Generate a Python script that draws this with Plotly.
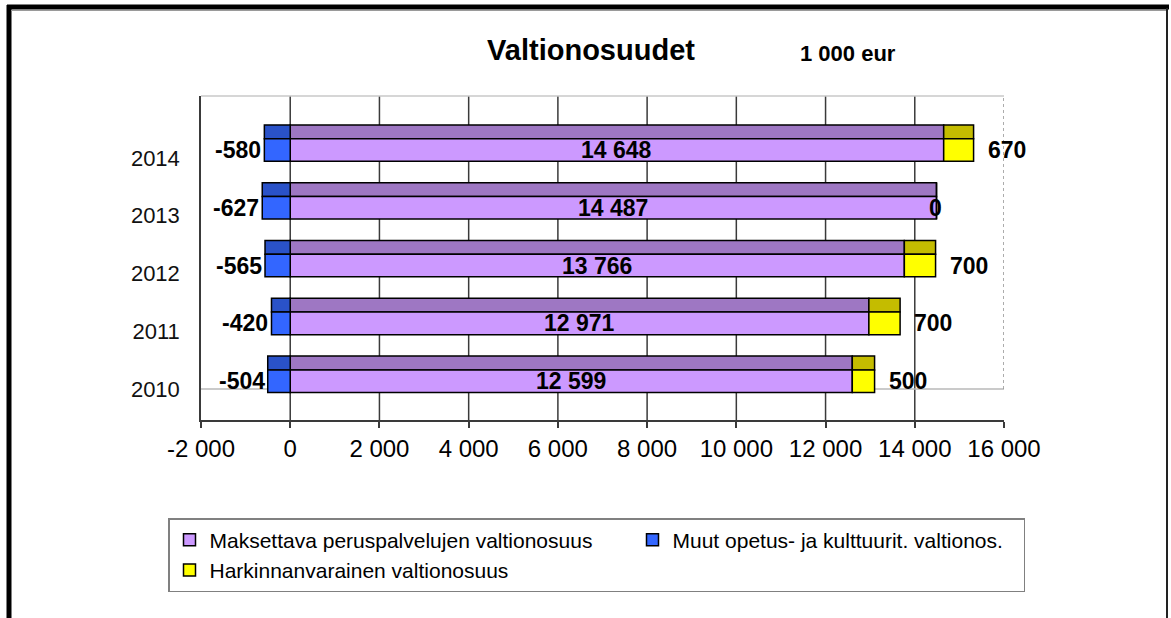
import plotly.graph_objects as go

years = [2010, 2011, 2012, 2013, 2014]
year_labels = ["2010", "2011", "2012", "2013", "2014"]
peruspalvelut = [12599, 12971, 13766, 14487, 14648]
muut = [-504, -420, -565, -627, -580]
harkinnanvarainen = [500, 700, 700, 0, 670]
x_ticks = [-2000, 0, 2000, 4000, 6000, 8000, 10000, 12000, 14000, 16000]

names = ["Maksettava peruspalvelujen valtionosuus",
         "Muut opetus- ja kulttuurit. valtionos.",
         "Harkinnanvarainen valtionosuus"]

def fmt(v):
    return f"{v:,}".replace(",", " ")

FONT = "Arial, Liberation Sans, sans-serif"
W, H = 1171, 618
L, R, T, B = 201, 167, 96, 198
PW, PH = W - L - R, H - T - B
Y0, Y1 = 2009.463, 2015.07

FRONT_OFF, FRONT_W = -0.06, 0.39
TOP_OFF, TOP_W = 0.33, 0.24
LINE = dict(color="#000000", width=1.5)

def px(xp):
    return (xp - L) / PW

def py(yp):
    return (H - B - yp) / PH

fig = go.Figure()

series = [
    (names[0], peruspalvelut, [0] * 5, "#CC99FF", "#9E77C3", 418),
    (names[1], muut, [0] * 5, "#3366FF", "#2A52C8", 346),
    (names[2], harkinnanvarainen, peruspalvelut, "#FFFF00", "#C4BC00", 418),
]
for name, vals, base, cfront, ctop, lw in series:
    fig.add_trace(go.Bar(
        y=years, x=vals, base=base, orientation="h",
        offset=TOP_OFF, width=TOP_W,
        marker=dict(color=ctop, line=LINE),
        showlegend=False, hoverinfo="skip"))
    fig.add_trace(go.Bar(
        y=years, x=vals, base=base, orientation="h", name=name,
        offset=FRONT_OFF, width=FRONT_W,
        marker=dict(color=cfront, line=LINE),
        legendwidth=lw))

label_font = dict(family=FONT, size=23, color="#000000")
ann = []
for yr, p, m, h in zip(years, peruspalvelut, muut, harkinnanvarainen):
    yc = yr + FRONT_OFF + FRONT_W / 2
    ann.append(dict(x=p / 2, y=yc, text=f"<b>{fmt(p)}</b>", showarrow=False,
                    font=label_font, xanchor="center", yanchor="middle"))
    ann.append(dict(x=m, y=yc, text=f"<b>{fmt(m)}</b>", showarrow=False,
                    font=label_font, xanchor="right", yanchor="middle", xshift=-1))
    ann.append(dict(x=p + h, y=yc, text=f"<b>{fmt(h)}</b>", showarrow=False,
                    font=label_font, xanchor="left", yanchor="middle",
                    xshift=(12 if h else -10)))
ann.append(dict(x=px(848), y=py(53), xref="paper", yref="paper",
                text="<b>1 000 eur</b>", showarrow=False,
                font=dict(family=FONT, size=22, color="#000000"),
                xanchor="center", yanchor="middle"))

shapes = []
for t in x_ticks[1:-1]:
    shapes.append(dict(type="line", xref="x", yref="paper", x0=t, x1=t, y0=0, y1=1,
                       line=dict(color="#3a3a3a", width=1.5), layer="below"))
shapes.append(dict(type="line", xref="x", yref="paper", x0=x_ticks[0], x1=x_ticks[-1],
                   y0=1, y1=1, line=dict(color="#c8c8c8", width=1.5), layer="below"))
shapes.append(dict(type="line", xref="x", yref="y", x0=x_ticks[0], x1=x_ticks[-1],
                   y0=years[0], y1=years[0], line=dict(color="#b8b8b8", width=1.5), layer="below"))
shapes.append(dict(type="line", xref="x", yref="y", x0=x_ticks[-1], x1=x_ticks[-1],
                   y0=years[0], y1=Y1, line=dict(color="#909090", width=1.5, dash="dot"),
                   layer="below"))
# outer frame
shapes.append(dict(type="line", xref="paper", yref="paper", x0=px(7), x1=px(1169),
                   y0=py(7), y1=py(7), line=dict(color="#000000", width=5)))
shapes.append(dict(type="line", xref="paper", yref="paper", x0=px(9), x1=px(9),
                   y0=py(5), y1=py(625), line=dict(color="#000000", width=5)))
shapes.append(dict(type="line", xref="paper", yref="paper", x0=px(1167), x1=px(1167),
                   y0=py(8), y1=py(625), line=dict(color="#222222", width=2)))
shapes.append(dict(type="line", xref="paper", yref="paper", x0=px(11), x1=px(1166),
                   y0=py(10.5), y1=py(10.5), line=dict(color="#9a9a9a", width=1)))

fig.update_layout(
    width=W, height=H,
    margin=dict(l=L, r=R, t=T, b=B, autoexpand=False),
    paper_bgcolor="#ffffff", plot_bgcolor="#ffffff",
    barmode="overlay",
    font=dict(family=FONT, color="#000000"),
    title=dict(text="<b>Valtionosuudet</b>", x=591 / W, y=1 - 50 / H,
               xanchor="center", yanchor="middle",
               font=dict(family=FONT, size=29, color="#000000")),
    xaxis=dict(range=[x_ticks[0], x_ticks[-1]], tickvals=x_ticks,
               ticktext=[fmt(t) for t in x_ticks], showgrid=False, zeroline=False,
               showline=True, linecolor="#3a3a3a", linewidth=1.5,
               ticks="outside", ticklen=6, tickcolor="#3a3a3a", tickwidth=1.5,
               ticklabelstandoff=0,
               tickfont=dict(family=FONT, size=24, color="#000000")),
    yaxis=dict(range=[Y0, Y1], tickvals=years, ticktext=year_labels,
               showgrid=False, zeroline=False, showline=True,
               linecolor="#3a3a3a", linewidth=1.5, ticks="",
               ticklabelstandoff=15,
               tickfont=dict(family=FONT, size=22, color="#111111")),
    legend=dict(orientation="h", x=px(168), y=py(518), xanchor="left", yanchor="top",
                bordercolor="#808080", borderwidth=1.5, bgcolor="#ffffff",
                traceorder="normal", entrywidthmode="pixels",
                font=dict(family=FONT, size=21, color="#000000")),
    annotations=ann,
    shapes=shapes,
)

fig.write_html("out.html", config={"displayModeBar": False},
               post_script="document.body.style.margin='0';document.body.style.overflow='hidden';")
